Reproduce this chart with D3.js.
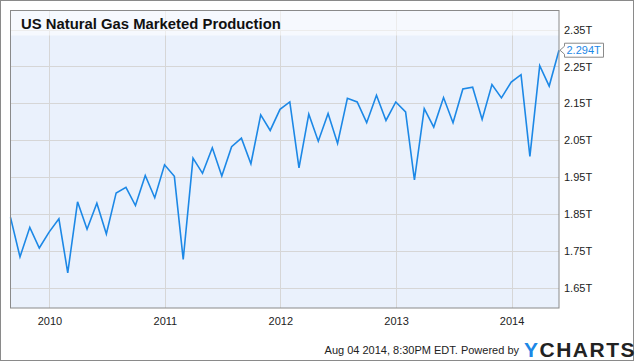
<!DOCTYPE html>
<html>
<head>
<meta charset="utf-8">
<script src="https://cdn.jsdelivr.net/npm/d3@7"></script>
<style>
  html, body { margin: 0; padding: 0; background: #fff; }
  svg { display: block; font-family: "Liberation Sans", Arial, sans-serif; }
</style>
</head>
<body>
<svg id="chart" width="635" height="362"></svg>
<script>
// ---- data (monthly, plotted at month end) ----
const startMonth = [2009, 7]; // Aug 2009 (0-based month)
const values = [
  1.842, 1.735, 1.815, 1.759, 1.802,
  1.838, 1.692, 1.884, 1.810, 1.880, 1.797, 1.908, 1.923, 1.874, 1.955, 1.895, 1.984,
  1.953, 1.728, 2.002, 1.961, 2.030, 1.954, 2.033, 2.056, 1.987, 2.119, 2.077, 2.134,
  2.154, 1.976, 2.121, 2.048, 2.123, 2.042, 2.164, 2.154, 2.098, 2.172, 2.104, 2.154,
  2.127, 1.943, 2.136, 2.086, 2.166, 2.098, 2.189, 2.194, 2.107, 2.201, 2.165, 2.208,
  2.228, 2.007, 2.252, 2.197, 2.294
];
const yTicks = [1.65, 1.75, 1.85, 1.95, 2.05, 2.15, 2.25, 2.35];
const xTickYears = [2010, 2011, 2012, 2013, 2014];
const title = "US Natural Gas Marketed Production";
const lastLabel = "2.294T";
const footer = "Aug 04 2014, 8:30PM EDT.  Powered by";

const data = values.map((v, i) => ({
  date: new Date(startMonth[0], startMonth[1] + i + 1, 0), // last day of month
  value: v
}));

const svg = d3.select("#chart");
const L = 10.5, R = 559, T = 10.5, B = 308;

const x = d3.scaleTime()
  .domain([data[0].date, data[data.length - 1].date])
  .range([L, R]);
const y = d3.scaleLinear()
  .domain([1.5968, 2.4014])
  .range([B, T]);

// outer border
svg.append("rect").attr("x", 0.5).attr("y", 0.5).attr("width", 633).attr("height", 360)
  .attr("fill", "#fff").attr("stroke", "#8a8a8a");

// plot background
svg.append("rect").attr("x", L).attr("y", T).attr("width", R - L).attr("height", B - T)
  .attr("fill", "#eaf1fc");

// grid
const g = svg.append("g");
g.selectAll(".hg").data(yTicks).join("line")
  .attr("x1", L).attr("x2", R)
  .attr("y1", d => Math.round(y(d)) + 0.5).attr("y2", d => Math.round(y(d)) + 0.5)
  .attr("stroke", "#d6d6d6").attr("stroke-width", 1);
const yearDates = xTickYears.map(yr => new Date(yr, 0, 1));
g.selectAll(".vg").data(yearDates).join("line")
  .attr("x1", d => Math.round(x(d)) + 0.5).attr("x2", d => Math.round(x(d)) + 0.5)
  .attr("y1", T).attr("y2", B)
  .attr("stroke", "#d6d6d6").attr("stroke-width", 1);

// title band
svg.append("rect").attr("x", L).attr("y", T).attr("width", R - L).attr("height", 25)
  .attr("fill", "#ffffff").attr("opacity", 0.55);
svg.append("text").attr("x", 21).attr("y", 29)
  .attr("font-size", "14.85px").attr("font-weight", "bold").attr("fill", "#111")
  .text(title);

// line
const line = d3.line().x(d => x(d.date)).y(d => y(d.value));
svg.append("path").datum(data)
  .attr("d", line).attr("fill", "none")
  .attr("stroke", "#1c88e6").attr("stroke-width", 1.6)
  .attr("stroke-linejoin", "miter");

// plot border
svg.append("rect").attr("x", L).attr("y", T).attr("width", R - L).attr("height", B - T)
  .attr("fill", "none").attr("stroke", "#8a8a8a");

// y axis (right)
const yAxis = d3.axisRight(y).tickValues(yTicks).tickSize(0).tickPadding(5)
  .tickFormat(d => d3.format(".2f")(d) + "T");
const ya = svg.append("g").attr("transform", `translate(${R},0)`).call(yAxis);
ya.select(".domain").remove();
ya.selectAll("text").attr("font-size", "11px").attr("fill", "#222")
  .attr("font-family", "'Liberation Sans', Arial, sans-serif");

// x axis
const xAxis = d3.axisBottom(x).tickValues(yearDates).tickSize(0).tickPadding(9)
  .tickFormat(d3.timeFormat("%Y"));
const xa = svg.append("g").attr("transform", `translate(0,${B})`).call(xAxis);
xa.select(".domain").remove();
xa.selectAll("text").attr("font-size", "11px").attr("fill", "#222")
  .attr("font-family", "'Liberation Sans', Arial, sans-serif");

// last value label
const last = data[data.length - 1];
const ly = y(last.value);
const bx = 564.5, bw = 39, bh = 14;
svg.append("path")
  .attr("d", `M${bx},${ly - bh/2} L${bx + bw},${ly - bh/2} L${bx + bw},${ly + bh/2} L${bx},${ly + bh/2} L${bx},${ly + 4} L${x(last.date) + 1},${ly} L${bx},${ly - 4} Z`)
  .attr("fill", "#fff").attr("stroke", "#8a8a8a");
svg.append("text").attr("x", bx + 2).attr("y", ly + 4)
  .attr("font-size", "11px").attr("fill", "#1c88e6").text(lastLabel);

// footer
svg.append("text").attr("x", 519).attr("y", 354).attr("text-anchor", "end")
  .attr("font-size", "11px").attr("fill", "#222").text(footer);
const logo = svg.append("text").attr("x", 524).attr("y", 357)
  .attr("font-size", "21px").attr("font-weight", "bold").attr("letter-spacing", "1.5px");
logo.append("tspan").attr("fill", "#1c88e6").text("Y");
logo.append("tspan").attr("fill", "#222").text("CHARTS");
</script>
</body>
</html>
